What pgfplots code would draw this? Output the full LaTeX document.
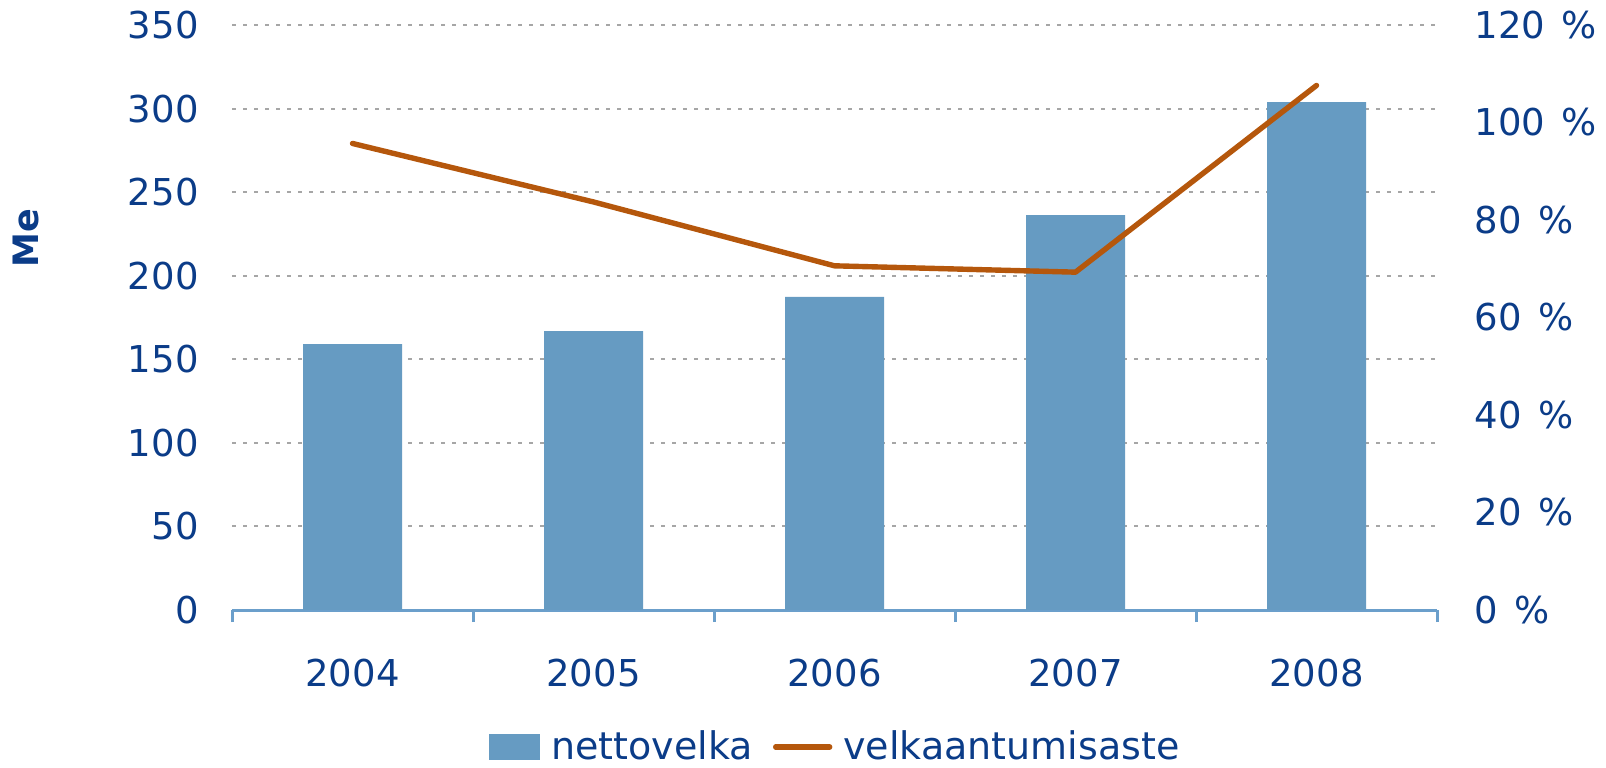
\documentclass[border=0pt]{standalone}
\usepackage{pgfplots}
\pgfplotsset{compat=1.18}
\usepackage{fontspec}
\setmainfont{DejaVu Sans}

\definecolor{barblue}{HTML}{669BC2}
\definecolor{axisblue}{HTML}{6B9FCB}
\definecolor{debtline}{HTML}{B5570C}
\definecolor{textblue}{HTML}{0B3C88}
\definecolor{gridgray}{HTML}{A6A6A6}

\begin{document}
\begin{tikzpicture}
  \useasboundingbox (0,0) rectangle (803bp,384bp);
  \pgfplotsset{
    common/.style={
      at={(116bp,79bp)}, anchor=south west,
      scale only axis, width=602.5bp, height=292.5bp,
      xmin=-0.5, xmax=4.5,
      /pgf/number format/assume math mode=true,
      ticklabel style={text=textblue, inner sep=0pt, font=\fontsize{18.5bp}{22bp}\selectfont},
    },
  }

  % left axis: nettovelka (Me)
  \begin{axis}[
      common,
      ymin=0, ymax=350, ytick={0,50,...,350},
      axis x line=bottom, axis y line=left,
      x axis line style={-, axisblue, line width=1.5bp},
      y axis line style={draw=none},
      ytick style={draw=none},
      xtick={0,...,4}, xticklabels={2004,2005,2006,2007,2008},
      minor xtick={-0.5,0.5,...,4.5},
      tick align=outside,
      major tick length=0pt, minor tick length=6bp,
      minor tick style={axisblue, line width=1.5bp},
      xticklabel style={anchor=base, yshift=-38bp},
      yticklabel style={anchor=east, xshift=-16.5bp},
      ymajorgrids,
      grid style={gridgray, line width=1bp, dash pattern=on 2bp off 3.5bp},
      ylabel={Me},
      ylabel style={at={(rel axis cs:0,0.636)}, anchor=center, yshift=103bp,
        font=\fontsize{17.5bp}{20bp}\selectfont\bfseries, text=textblue},
      legend columns=-1,
      legend style={at={(rel axis cs:0.5,0)}, anchor=center, yshift=-68.5bp,
        draw=none, fill=none, text=textblue,
        font=\fontsize{19bp}{22bp}\selectfont,
        nodes={inner sep=0pt},
        /tikz/every odd column/.append style={column sep=5.5bp},
        /tikz/every even column/.append style={column sep=10bp}},
    ]
    \addplot[ybar, bar width=49.5bp, bar shift=0pt, fill=barblue, draw=none,
      legend image code/.code={\fill[barblue] (0bp,-6.65bp) rectangle (25.5bp,6.65bp);}]
      coordinates {(0,159.1) (1,166.9) (2,187.3) (3,236.3) (4,303.9)};
    \addlegendentry{nettovelka}
    \addlegendimage{legend image code/.code={\draw[debtline, line width=2.7bp, line cap=round] (0bp,0bp) -- (27bp,0bp);}}
    \addlegendentry{velkaantumisaste}
  \end{axis}

  % right axis: velkaantumisaste (%)
  \begin{axis}[
      common,
      ymin=0, ymax=120, ytick={0,20,...,120},
      yticklabels={0\hspace{0.45em}\%,20\hspace{0.45em}\%,40\hspace{0.45em}\%,60\hspace{0.45em}\%,80\hspace{0.45em}\%,100\hspace{0.45em}\%,120\hspace{0.45em}\%},
      hide x axis,
      axis y line=right,
      y axis line style={draw=none},
      ytick style={draw=none},
      yticklabel style={anchor=west, xshift=16.5bp},
    ]
    \addplot[debtline, line width=2.7bp, line cap=round, line join=round]
      coordinates {(0,95.7) (1,83.7) (2,70.6) (3,69.3) (4,107.6)};
  \end{axis}
\end{tikzpicture}
\end{document}
